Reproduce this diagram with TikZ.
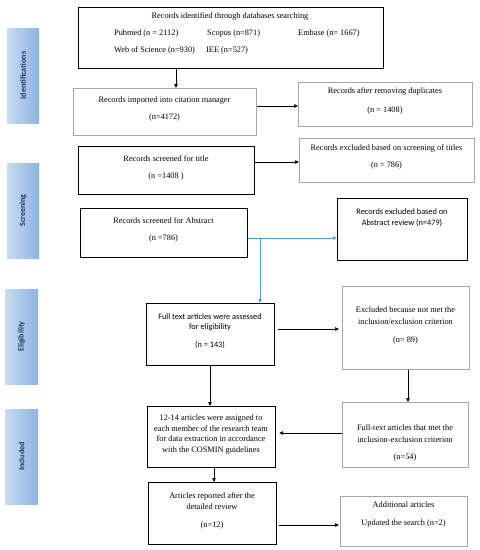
\documentclass[tikz,border=0pt]{standalone}
\usepackage{fontspec}
\setmainfont{Liberation Serif}
\newfontfamily\calfont{Carlito}
\usetikzlibrary{arrows.meta}
\definecolor{barL}{HTML}{C9DBF1}
\definecolor{barR}{HTML}{8DB3E2}
\definecolor{barT}{HTML}{1F3864}
\definecolor{grayb}{HTML}{A6A6A6}
\definecolor{blueline}{HTML}{5B9BD5}
\tikzset{
  darkbox/.style={draw=black, line width=0.9pt, inner sep=0pt, anchor=north west},
  thickbox/.style={draw=black, line width=1.2pt, inner sep=0pt, anchor=north west},
  lightbox/.style={draw=grayb, line width=0.7pt, inner sep=0pt, anchor=north west},
  txt/.style={font=\fontsize{8.3}{10.5}\selectfont, align=center, inner sep=0pt},
  stxt/.style={font=\calfont\fontsize{8.3}{10.5}\selectfont, align=center, inner sep=0pt},
  bar/.style={left color=barL, right color=barR, draw=none, inner sep=0pt,
    minimum width=32pt, minimum height=95pt},
  bartxt/.style={rotate=90, text=barT, inner sep=0pt, font=\calfont\bfseries\fontsize{8}{9}\selectfont},
  arr/.style={-{Triangle[length=4pt,width=3.5pt]}, line width=0.6pt, black},
  barr/.style={-{Triangle[length=4pt,width=3.5pt]}, line width=0.6pt, blueline},
}
\begin{document}
\begin{tikzpicture}[x=1pt,y=-1pt]
\useasboundingbox (0,0) rectangle (480,550);
% side bars
\node[bar] (b1) at (23,75.5) {};
\node[bartxt] (b1t) at (b1.center) {Identifications};
\node[bar] (b2) at (23,210.5) {};
\node[bartxt] (b2t) at (b2.center) {Screening};
\node[bar, minimum width=33pt] (b3) at (21.5,336.5) {};
\node[bartxt] (b3t) at (b3.center) {Eligibility};
\node[bar, minimum width=33pt] (b4) at (21.5,456.5) {};
\node[bartxt] (b4t) at (b4.center) {Included};
% boxes
\node[darkbox, minimum width=305pt, minimum height=61pt] (top) at (78,7) {};
\node[txt] (t0) at (230,16) {Records identified through databases searching};
\node[txt, anchor=west] (t1) at (114,33) {Pubmed (n = 2112)};
\node[txt, anchor=west] (t2) at (207,33) {Scopus (n=871)};
\node[txt, anchor=west] (t3) at (298,33) {Embase (n= 1667)};
\node[txt, anchor=west] (t4) at (114,50) {Web of Science (n=930)};
\node[txt, anchor=west] (t5) at (206,50) {IEE (n=527)};

\node[lightbox, minimum width=183pt, minimum height=47pt] (imp) at (73,88) {};
\node[txt] (imp-t) at (164.5,108.5) {Records imported into citation manager\\[6.5pt](n=4172)};

\node[lightbox, minimum width=174pt, minimum height=44pt] (dup) at (298,82) {};
\node[txt] (dup-t) at (385,100.5) {Records after removing duplicates\\[8.5pt](n = 1408)};

\node[darkbox, minimum width=176pt, minimum height=48pt] (tit) at (78,146) {};
\node[txt] (tit-t) at (166,167.5) {Records screened for title\\[6.5pt](n =1408 )};

\node[lightbox, minimum width=175pt, minimum height=44pt] (ext) at (299,138) {};
\node[txt] (ext-t) at (386.5,156.5) {Records excluded based on screening of titles\\[6.5pt](n = 786)};

\node[darkbox, minimum width=167pt, minimum height=49pt] (abs) at (80,208) {};
\node[txt] (abs-t) at (163.5,229.5) {Records screened for Abstract\\[6.5pt](n =786)};

\node[darkbox, minimum width=130pt, minimum height=62pt] (exa) at (337,198) {};
\node[stxt] (exa-t) at (402,217.5) {Records excluded based on\\Abstract review (n=479)};

\node[darkbox, minimum width=128pt, minimum height=62pt] (ful) at (146,303) {};
\node[stxt] (ful-t) at (210,331) {Full text articles were assessed\\for eligibility\\[7.5pt](n = 143)};

\node[lightbox, minimum width=127pt, minimum height=83pt] (exc) at (342,286) {};
\node[txt] (exc-t) at (405.5,325) {Excluded because not met the\\[1.5pt]inclusion/exclusion criterion\\[7.5pt](n= 89)};

\node[thickbox, minimum width=128pt, minimum height=61pt] (ass) at (147,406) {};
\node[txt] (ass-t) at (211,434.5) {12-14 articles were assigned to\\each member of the research team\\for data extraction in accordance\\with the COSMIN guidelines};

\node[lightbox, minimum width=126pt, minimum height=65pt] (met) at (342,402) {};
\node[txt] (met-t) at (405,443) {Full-text articles that met the\\[1.5pt]inclusion-exclusion criterion\\[6.5pt](n=54)};

\node[darkbox, minimum width=128pt, minimum height=62pt] (rep) at (148,482) {};
\node[txt] (rep-t) at (212,511) {Articles reported after the\\detailed review\\[7.5pt](n=12)};

\node[lightbox, minimum width=127pt, minimum height=50pt] (add) at (340,496) {};
\node[txt] (add-t) at (403.5,514) {Additional articles\\[7.5pt]Updated the search (n=2)};

% connectors
\draw[arr] (176,0 |- top.south) -- (176,0 |- imp.north);
\draw[arr] (imp.east |- 0,106) -- (dup.west |- 0,106);
\draw[arr] (tit.east |- 0,162) -- (ext.west |- 0,162);
\coordinate (br) at (260,238);
\draw[barr] (abs.east |- br) -- (exa.west |- br);
\draw[barr] (br) -- (br |- ful.north);
\draw[arr] ([xshift=3pt]ful.east |- 0,329) -- ([xshift=-3pt]exc.west |- 0,329);
\draw[arr] (210,0 |- ful.south) -- (210,0 |- ass.north);
\draw[arr] (408,0 |- exc.south) -- (408,0 |- met.north);
\draw[arr] (met.west |- 0,433) -- ([xshift=3pt]ass.east |- 0,433);
\draw[arr] (214,0 |- ass.south) -- (214,0 |- rep.north);
\draw[arr] ([xshift=2pt]rep.east |- 0,525) -- ([xshift=-1pt]add.west |- 0,525);
\end{tikzpicture}
\end{document}
